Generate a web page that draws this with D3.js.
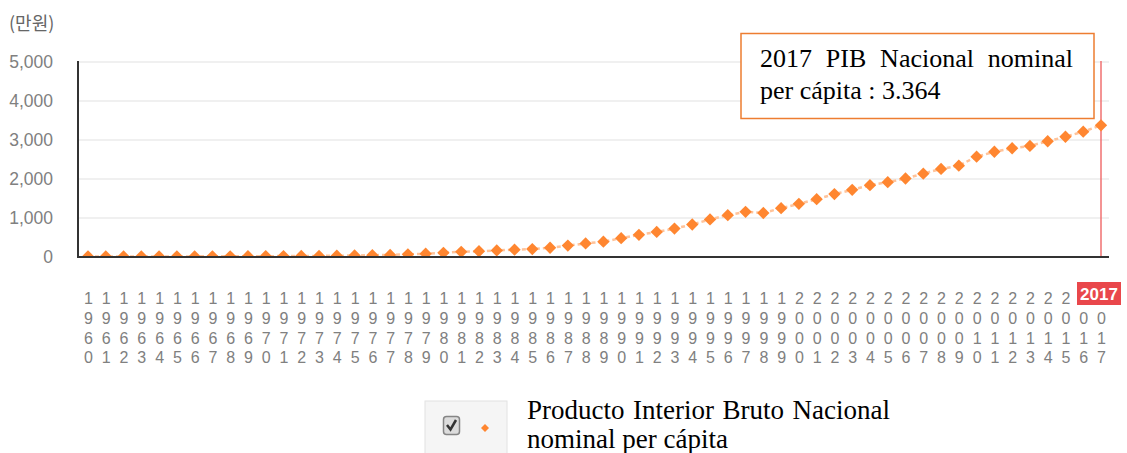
<!DOCTYPE html>
<html>
<head>
<meta charset="utf-8">
<script src="https://cdn.jsdelivr.net/npm/d3@7"></script>
<style>
body { margin: 0; background: #fff; }
svg { display: block; }
</style>
</head>
<body>
<svg id="chart"></svg>
<script>
var width = 1127, height = 453;

// years on the x axis
var years = [1960, 1961, 1962, 1963, 1964, 1965, 1966, 1967, 1968, 1969,
             1970, 1971, 1972, 1973, 1974, 1975, 1976, 1977, 1978, 1979,
             1980, 1981, 1982, 1983, 1984, 1985, 1986, 1987, 1988, 1989,
             1990, 1991, 1992, 1993, 1994, 1995, 1996, 1997, 1998, 1999,
             2000, 2001, 2002, 2003, 2004, 2005, 2006, 2007, 2008, 2009,
             2010, 2011, 2012, 2013, 2014, 2015, 2016, 2017];

// nominal GNI per capita, in 만원
var gni = [1, 1, 1, 2, 2, 3, 3, 4, 5, 7,
           9, 10, 12, 15, 20, 26, 33, 40, 55, 70,
           95, 120, 135, 155, 175, 190, 225, 280, 335, 380,
           470, 555, 630, 715, 820, 950, 1060, 1145, 1115, 1240,
           1350, 1470, 1600, 1710, 1830, 1905, 2000, 2125, 2245, 2330,
           2560, 2685, 2775, 2835, 2955, 3070, 3200, 3364];

var yTicks = [0, 1000, 2000, 3000, 4000, 5000];
var unitLabel = "(만원)";
var selectedYear = 2017;
var tipLine1 = ["2017", "PIB", "Nacional", "nominal"];
var tipLine2 = "per cápita : 3.364";
var legendLine1 = ["Producto", "Interior", "Bruto", "Nacional"];
var legendLine2 = "nominal per cápita";

var plot = {left: 78, right: 1109, top: 61, bottom: 257};
var orange = "#ff8630";
var serif = "'Liberation Serif', 'Times New Roman', serif";
var sans = "'Liberation Sans', Arial, sans-serif";

var svg = d3.select("#chart").attr("width", width).attr("height", height);

var x = d3.scalePoint().domain(years).range([88, 1101]);
var y = d3.scaleLinear().domain([0, 5000]).range([256.5, 61.5]);

// red year badge sits over the top digits of the last labels
var badge = {cx: x(selectedYear) - 2, w: 44, y: 282, h: 23};

// unit label
svg.append("text")
    .attr("x", 9).attr("y", 30)
    .attr("fill", "#666")
    .style("font", "18px 'Noto Sans CJK KR', sans-serif")
    .text(unitLabel);

// y axis + grid
var yAxis = svg.append("g")
    .attr("transform", "translate(" + plot.left + ",0)")
    .call(d3.axisLeft(y).tickValues(yTicks)
        .tickSize(-(plot.right - plot.left))
        .tickFormat(d3.format(",")));
yAxis.select(".domain").remove();
yAxis.selectAll(".tick line").attr("stroke", "#ebebeb").attr("stroke-width", 1.5);
yAxis.selectAll(".tick text")
    .attr("x", -25)
    .attr("fill", "#808080")
    .style("font", "17.5px " + sans);

// x axis, digits stacked vertically
var xAxis = svg.append("g")
    .attr("transform", "translate(0," + plot.bottom + ")")
    .call(d3.axisBottom(x).tickSize(0));
xAxis.select(".domain").remove();
xAxis.selectAll(".tick text").each(function(d) {
    var t = d3.select(this).text(null).attr("dy", null).attr("y", null)
        .attr("fill", "#808080")
        .style("font", "16px " + sans);
    var hidden = Math.abs(x(d) - badge.cx) < badge.w / 2 + 4;
    String(d).split("").forEach(function(c, i) {
        if (i === 0 && hidden) return; // covered by the badge
        t.append("tspan").attr("x", 0).attr("y", 47 + i * 19.8).text(c);
    });
});

// highlighted year
svg.append("line")
    .attr("x1", x(selectedYear)).attr("x2", x(selectedYear))
    .attr("y1", plot.top).attr("y2", plot.bottom)
    .attr("stroke", "#f07070").attr("stroke-width", 1.5);

svg.append("rect")
    .attr("x", badge.cx - badge.w / 2).attr("y", badge.y)
    .attr("width", badge.w).attr("height", badge.h)
    .attr("fill", "#e9474b");
svg.append("text")
    .attr("x", badge.cx).attr("y", badge.y + 17.5)
    .attr("text-anchor", "middle")
    .attr("fill", "#fff")
    .style("font", "bold 17px " + sans)
    .text(selectedYear);

// series
svg.append("clipPath").attr("id", "plotClip")
    .append("rect")
    .attr("x", plot.left).attr("y", plot.top - 12)
    .attr("width", plot.right - plot.left + 12)
    .attr("height", plot.bottom - plot.top + 12);

var series = svg.append("g").attr("clip-path", "url(#plotClip)");

var line = d3.line()
    .x(function(d, i) { return x(years[i]); })
    .y(function(d) { return y(d); });

series.append("path")
    .datum(gni)
    .attr("d", line)
    .attr("fill", "none")
    .attr("stroke", "#ffc39a")
    .attr("stroke-width", 2.5)
    .attr("stroke-dasharray", "4,3");

var diamond = d3.symbol().type(d3.symbolSquare).size(76);
series.selectAll(".pt")
    .data(gni)
    .enter().append("path")
    .attr("class", "pt")
    .attr("d", diamond)
    .attr("transform", function(d, i) {
        return "translate(" + x(years[i]) + "," + y(d) + ") rotate(45)";
    })
    .attr("fill", orange);

// axis lines
svg.append("line")
    .attr("x1", plot.left).attr("x2", plot.right)
    .attr("y1", plot.bottom).attr("y2", plot.bottom)
    .attr("stroke", "#333").attr("stroke-width", 2);
svg.append("line")
    .attr("x1", plot.left).attr("x2", plot.left)
    .attr("y1", plot.top).attr("y2", plot.bottom + 1)
    .attr("stroke", "#333").attr("stroke-width", 2);

// spread words over a line like justified text
function justify(g, words, x0, x1, baseline, font) {
    var nodes = words.map(function(w) {
        return g.append("text").attr("y", baseline).attr("fill", "#000")
            .style("font", font).text(w);
    });
    var widths = nodes.map(function(n) { return n.node().getComputedTextLength(); });
    var gap = (x1 - x0 - d3.sum(widths)) / (words.length - 1);
    var cx = x0;
    nodes.forEach(function(n, i) { n.attr("x", cx); cx += widths[i] + gap; });
}

// tooltip box
var tip = svg.append("g");
tip.append("rect")
    .attr("x", 741).attr("y", 33.5)
    .attr("width", 353).attr("height", 85)
    .attr("fill", "#fff")
    .attr("stroke", "#ed7d31").attr("stroke-width", 1.5);
justify(tip, tipLine1, 760, 1073, 67, "26px " + serif);
tip.append("text")
    .attr("x", 760).attr("y", 99)
    .attr("fill", "#000")
    .style("font", "26px " + serif)
    .text(tipLine2);

// legend
var legend = svg.append("g");
legend.append("rect")
    .attr("x", 425).attr("y", 401)
    .attr("width", 82).attr("height", 60)
    .attr("fill", "#f5f5f5")
    .attr("stroke", "#e2e2e2");
legend.append("rect")
    .attr("x", 443.5).attr("y", 416.5)
    .attr("width", 16).attr("height", 18).attr("rx", 3)
    .attr("fill", "#dcdcdc")
    .attr("stroke", "#858585").attr("stroke-width", 1.5);
legend.append("path")
    .attr("d", "M447,425 L450.5,429.5 L456,420")
    .attr("fill", "none")
    .attr("stroke", "#333").attr("stroke-width", 2.5);
legend.append("path")
    .attr("d", d3.symbol().type(d3.symbolSquare).size(32))
    .attr("transform", "translate(485,428) rotate(45)")
    .attr("fill", orange);
justify(legend, legendLine1, 527, 890, 419, "27px " + serif);
legend.append("text")
    .attr("x", 527).attr("y", 448)
    .attr("fill", "#000")
    .style("font", "27px " + serif)
    .text(legendLine2);
</script>
</body>
</html>
